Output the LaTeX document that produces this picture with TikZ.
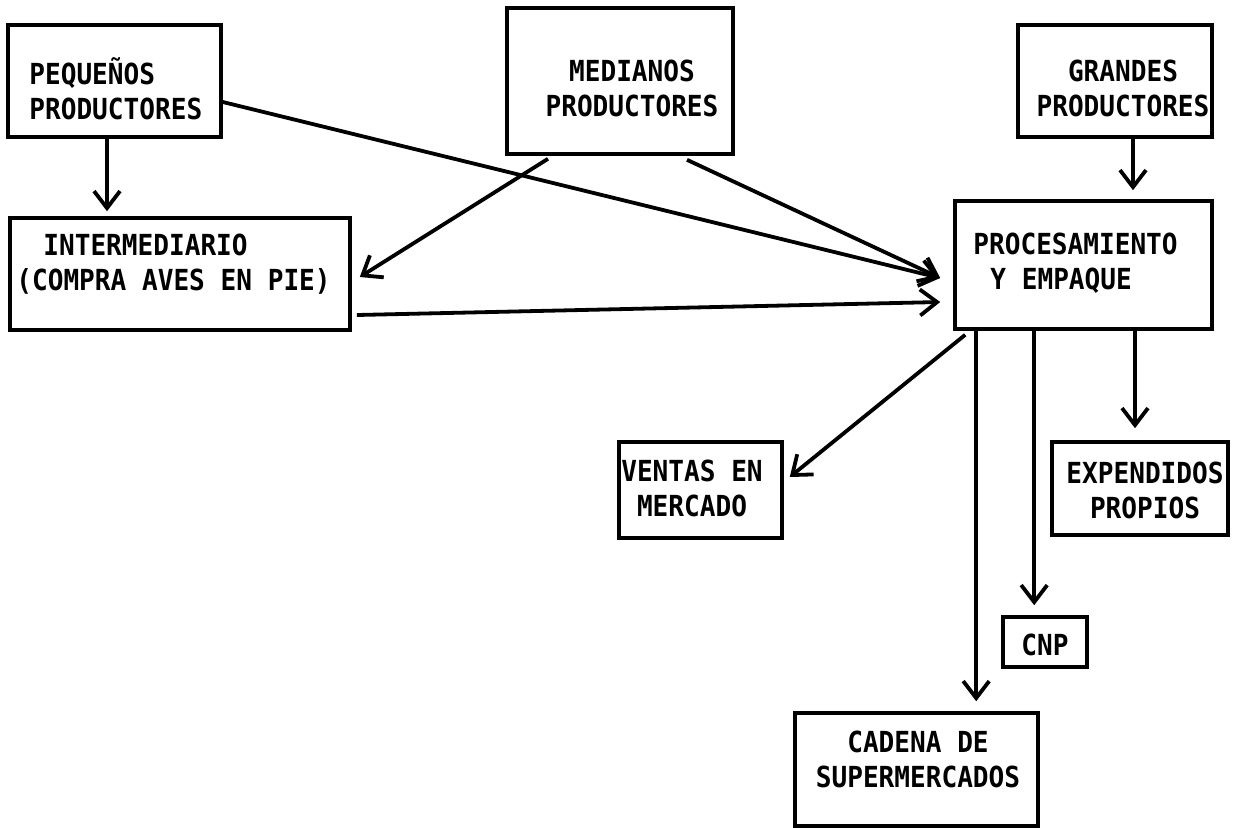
\documentclass[tikz,border=0pt]{standalone}
\usepackage{fontspec}
\setmainfont[FakeStretch=0.9]{DejaVu Sans Mono}
\usetikzlibrary{arrows.meta}
\begin{document}
\begin{tikzpicture}[x=0.5pt,y=-0.5pt,
  box/.style={draw,line width=1.8pt,inner sep=0pt},
  lbl/.style={font=\fontsize{14.5}{17.5}\selectfont\bfseries,inner sep=0pt,align=center},
  arr/.style={line width=1.9pt,-{Straight Barb[length=8.5pt,width=13pt,line width=1.9pt]}}]
\useasboundingbox (0,0) rectangle (1233,827);
% boxes
\node[box,minimum width=106.5pt,minimum height=56pt] (peq) at (114.5,81) {};
\node[box,minimum width=113pt,minimum height=73pt] (med) at (620,81) {};
\node[box,minimum width=97pt,minimum height=56pt] (gra) at (1115,81) {};
\node[box,minimum width=170pt,minimum height=56pt] (int) at (180,274) {};
\node[box,minimum width=128.5pt,minimum height=64pt] (pro) at (1083.5,265) {};
\node[box,minimum width=81.5pt,minimum height=48pt] (ven) at (700.5,490) {};
\node[box,minimum width=88pt,minimum height=46.5pt] (exp) at (1140,488.5) {};
\node[box,minimum width=42pt,minimum height=25pt] (cnp) at (1045,642) {};
\node[box,minimum width=121.5pt,minimum height=56.5pt] (cad) at (916.5,769.5) {};
% labels
\node[lbl,align=left,anchor=west] (peqT) at (29,88.5) {PEQUEÑOS\\PRODUCTORES};
\node[lbl] (medT) at (632,88) {MEDIANOS\\PRODUCTORES};
\node[lbl] (graT) at (1123,88) {GRANDES\\PRODUCTORES};
\node[lbl,align=left,anchor=west] (intT) at (16,264) {\hspace*{13.5pt}INTERMEDIARIO\\(COMPRA AVES EN PIE)};
\node[lbl,align=left,anchor=west] (proT) at (973,263) {PROCESAMIENTO\\\hspace*{8.5pt}Y EMPAQUE};
\node[lbl] (venT) at (692,488) {VENTAS EN\\MERCADO};
\node[lbl] (expT) at (1145,490) {EXPENDIDOS\\PROPIOS};
\node[lbl] (cnpT) at (1045,645) {CNP};
\node[lbl] (cadT) at (918,759) {CADENA DE\\SUPERMERCADOS};
% connectors
\draw[arr,shorten >=2.5pt] ([xshift=-3.75pt]peq.south) -- ([xshift=-3.75pt]peq.south |- int.north);
\draw[arr] ([yshift=-10.5pt]peq.east) -- ([xshift=-6.5pt,yshift=-6.5pt]pro.west);
\draw[arr] ([xshift=-36pt,yshift=-1.5pt]med.south) -- ([xshift=4pt,yshift=-1.5pt]int.east);
\draw[arr] ([xshift=33.5pt,yshift=-2pt]med.south) -- ([xshift=-6.5pt,yshift=-6.5pt]pro.west);
\draw[arr] ([xshift=2.5pt,yshift=-20.5pt]int.east) -- ([xshift=-6.5pt,yshift=-18.5pt]pro.west);
\draw[arr,shorten >=4.5pt] ([xshift=9pt]gra.south) -- ([xshift=9pt]gra.south |- pro.north);
\draw[arr] ([xshift=6pt,yshift=-2pt]pro.south west) -- ([xshift=3pt,yshift=6.5pt]ven.east);
\draw[arr,shorten >=5pt] ([xshift=11.5pt]pro.south west) -- ([xshift=11.5pt]pro.south west |- cad.north);
\draw[arr,shorten >=5pt] ([xshift=40.5pt]pro.south west) -- ([xshift=40.5pt]pro.south west |- cnp.north);
\draw[arr,shorten >=6pt] ([xshift=25.75pt]pro.south) -- ([xshift=25.75pt]pro.south |- exp.north);
\end{tikzpicture}
\end{document}
